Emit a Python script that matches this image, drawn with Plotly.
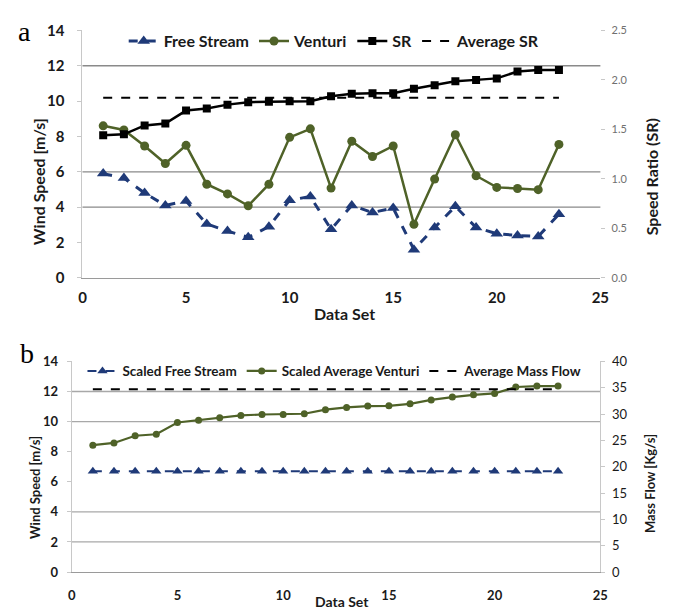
import plotly.graph_objects as go

# ---- data -----------------------------------------------------------------
data_set = list(range(1, 24))

# panel a
free_stream = [5.9, 5.65, 4.8, 4.1, 4.35, 3.05, 2.65, 2.3, 2.9, 4.4, 4.6, 2.75,
               4.1, 3.7, 3.95, 1.6, 2.85, 4.05, 2.85, 2.5, 2.4, 2.35, 3.6]
venturi = [8.6, 8.37, 7.46, 6.47, 7.5, 5.3, 4.75, 4.08, 5.3, 7.95, 8.43, 5.08,
           7.73, 6.87, 7.46, 3.03, 5.59, 8.1, 5.78, 5.12, 5.06, 4.99, 7.55]
speed_ratio = [1.44, 1.45, 1.54, 1.56, 1.69, 1.71, 1.75, 1.775, 1.78, 1.785, 1.785, 1.835,
               1.86, 1.865, 1.865, 1.91, 1.945, 1.985, 2.0, 2.015, 2.085, 2.1, 2.1]
average_sr = 1.82

# panel b
scaled_free_stream = [6.7, 6.7, 6.7, 6.7, 6.7, 6.7, 6.7, 6.7, 6.7, 6.7, 6.7, 6.7,
                      6.7, 6.7, 6.7, 6.7, 6.7, 6.7, 6.7, 6.7, 6.7, 6.7, 6.7]
scaled_avg_venturi = [8.43, 8.58, 9.06, 9.16, 9.94, 10.09, 10.26, 10.41, 10.47, 10.47, 10.52, 10.79,
                      10.94, 11.03, 11.05, 11.18, 11.44, 11.63, 11.78, 11.87, 12.3, 12.36, 12.36]
average_mass_flow = 34.7

x_ticks = [0, 5, 10, 15, 20, 25]
wind_ticks = [0, 2, 4, 6, 8, 10, 12, 14]

# ---- styles ----------------------------------------------------------------
NAVY = "#1f3a78"
OLIVE = "#4f6228"
FONT = "Lato"
TXT = "#1a1a1a"
avg_x = [data_set[0], data_set[-1]]


def bold(values):
    return ["<b>%s</b>" % v for v in values]


fig = go.Figure()

# panel a traces
fig.add_trace(go.Scatter(x=data_set, y=free_stream, name="<b>Free Stream</b>", mode="lines+markers",
                         line=dict(color=NAVY, width=3, dash="dash"),
                         marker=dict(symbol="triangle-up", size=11, color=NAVY),
                         xaxis="x", yaxis="y", legend="legend"))
fig.add_trace(go.Scatter(x=data_set, y=venturi, name="<b>Venturi</b>", mode="lines+markers",
                         line=dict(color=OLIVE, width=2.5),
                         marker=dict(symbol="circle", size=9, color=OLIVE),
                         xaxis="x", yaxis="y", legend="legend"))
fig.add_trace(go.Scatter(x=data_set, y=speed_ratio, name="<b>SR</b>", mode="lines+markers",
                         line=dict(color="black", width=2.5),
                         marker=dict(symbol="square", size=8, color="black"),
                         xaxis="x", yaxis="y2", legend="legend"))
fig.add_trace(go.Scatter(x=avg_x, y=[average_sr, average_sr], name="<b>Average SR</b>", mode="lines",
                         line=dict(color="black", width=2, dash="dash"),
                         xaxis="x", yaxis="y2", legend="legend"))

# panel b traces
fig.add_trace(go.Scatter(x=data_set, y=scaled_free_stream, name="<b>Scaled Free Stream</b>",
                         mode="lines+markers",
                         line=dict(color=NAVY, width=2, dash="dash"),
                         marker=dict(symbol="triangle-up", size=9, color=NAVY),
                         xaxis="x2", yaxis="y3", legend="legend2"))
fig.add_trace(go.Scatter(x=data_set, y=scaled_avg_venturi, name="<b>Scaled Average Venturi</b>",
                         mode="lines+markers",
                         line=dict(color=OLIVE, width=2.2),
                         marker=dict(symbol="circle", size=7, color=OLIVE),
                         xaxis="x2", yaxis="y3", legend="legend2"))
fig.add_trace(go.Scatter(x=avg_x, y=[average_mass_flow, average_mass_flow],
                         name="<b>Average Mass Flow</b>", mode="lines",
                         line=dict(color="black", width=2, dash="dash"),
                         xaxis="x2", yaxis="y4", legend="legend2"))

# ---- horizontal grid lines ---------------------------------------------------
grid_a = [4, 6, 12]
grid_b = [2, 4, 10, 12]
shapes = []
for g in grid_a:
    shapes.append(dict(type="line", xref="x domain", yref="y", x0=0, x1=1, y0=g, y1=g,
                       line=dict(color="#8a8a8a", width=1.3), layer="below"))
for g in grid_b:
    shapes.append(dict(type="line", xref="x2 domain", yref="y3", x0=0, x1=1, y0=g, y1=g,
                       line=dict(color="#a8a8a8", width=1.3), layer="below"))

tick_a = dict(family=FONT, size=15, color=TXT)
tick_b = dict(family=FONT, size=13, color=TXT)


def title_note(text, x, y, size, angle=0):
    return dict(text="<b>%s</b>" % text, x=x / 678, y=1 - y / 615, xref="paper", yref="paper",
                xanchor="center", yanchor="middle", textangle=angle, showarrow=False,
                font=dict(family=FONT, size=size, color=TXT))


fig.update_layout(
    width=678, height=615,
    margin=dict(l=0, r=0, t=0, b=0),
    paper_bgcolor="white", plot_bgcolor="white",
    shapes=shapes,
    xaxis=dict(domain=[0.118, 0.8968], range=[0, 25], tickvals=x_ticks, ticktext=bold(x_ticks),
               anchor="y", showgrid=False, zeroline=False, showline=True,
               linecolor="#9a9a9a", linewidth=1.3,
               ticks="", tickfont=tick_a, ticklabelstandoff=6),
    yaxis=dict(domain=[0.5512, 0.9659], range=[0, 14], tickvals=wind_ticks, ticktext=bold(wind_ticks),
               anchor="x", showgrid=False, zeroline=False, showline=True,
               linecolor="#c8c8c8", linewidth=1,
               ticks="outside", ticklen=4, tickcolor="#c8c8c8",
               tickfont=tick_a, ticklabelstandoff=10),
    yaxis2=dict(overlaying="y", side="right", range=[0, 2.5], dtick=0.5, tickformat=".1f",
                anchor="x", showgrid=False, zeroline=False, showline=False,
                ticks="outside", ticklen=4, tickcolor="#c8c8c8",
                tickfont=dict(family=FONT, size=11, color="#707070"), ticklabelstandoff=4),
    xaxis2=dict(domain=[0.1018, 0.8968], range=[0, 25], tickvals=x_ticks, ticktext=bold(x_ticks),
                anchor="y3", showgrid=False, zeroline=False, showline=True,
                linecolor="#9a9a9a", linewidth=1.3,
                ticks="", tickfont=tick_b, ticklabelstandoff=11),
    yaxis3=dict(domain=[0.0585, 0.4114], range=[0, 14], tickvals=wind_ticks, ticktext=bold(wind_ticks),
                anchor="x2", showgrid=False, zeroline=False, showline=True,
                linecolor="#c8c8c8", linewidth=1,
                ticks="outside", ticklen=4, tickcolor="#c8c8c8",
                tickfont=tick_b, ticklabelstandoff=6),
    yaxis4=dict(overlaying="y3", side="right", range=[0, 40], dtick=5, anchor="x2",
                showgrid=False, zeroline=False, showline=True, linecolor="#c8c8c8", linewidth=1,
                ticks="outside", ticklen=4, tickcolor="#c8c8c8",
                tickfont=dict(family=FONT, size=13, color=TXT), ticklabelstandoff=4),
    legend=dict(orientation="h", x=0.18, y=1 - 32 / 615, xanchor="left", yanchor="middle",
                bgcolor="rgba(0,0,0,0)", font=dict(family=FONT, size=16, color=TXT),
                itemwidth=30, tracegroupgap=0),
    legend2=dict(orientation="h", x=0.118, y=1 - 372 / 615, xanchor="left", yanchor="middle",
                 bgcolor="rgba(0,0,0,0)", font=dict(family=FONT, size=13.5, color=TXT),
                 itemwidth=30, tracegroupgap=0),
    annotations=[
        dict(text="a", x=12 / 678, y=1 - 4 / 615, xref="paper", yref="paper",
             xanchor="left", yanchor="top", showarrow=False,
             font=dict(family="Liberation Serif", size=28, color="black")),
        dict(text="b", x=14 / 678, y=1 - 336 / 615, xref="paper", yref="paper",
             xanchor="left", yanchor="top", showarrow=False,
             font=dict(family="Liberation Serif", size=28, color="black")),
        title_note("Wind Speed [m/s]", 35, 177, 16, -90),
        title_note("Speed Ratio (SR)", 661, 172, 16, -90),
        title_note("Data Set", 347, 313, 16),
        title_note("Wind Speed [m/s]", 31, 492, 13, -90),
        title_note("Mass Flow [Kg/s]", 658, 488, 13, -90),
        title_note("Data Set", 345, 609, 14),
    ],
)

fig.write_html("out.html")
